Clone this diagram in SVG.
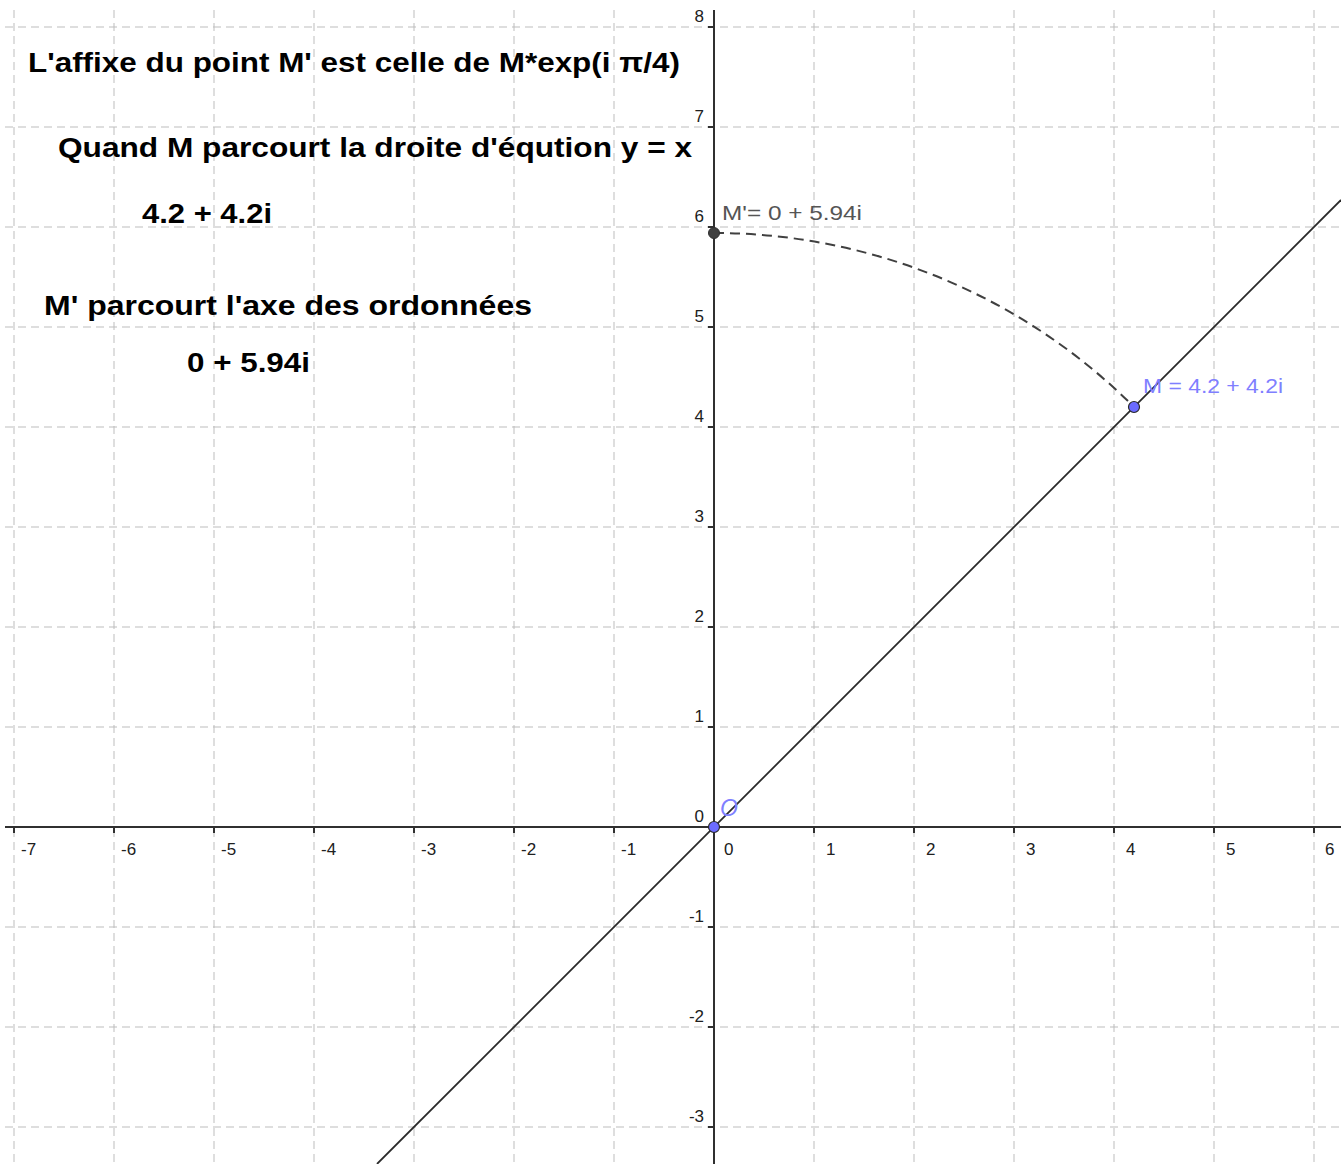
<svg xmlns="http://www.w3.org/2000/svg" width="1341" height="1164" viewBox="0 0 1341 1164">
<defs>
<style>
.grid{stroke:#bdbdbd;stroke-width:1;stroke-dasharray:8 5;fill:none}
.axis{stroke:#303030;stroke-width:2;fill:none}
.tick{stroke:#303030;stroke-width:2}
.tl{font-family:"Liberation Sans",Arial,sans-serif;font-size:17px;fill:#202020}
.tly{font-family:"Liberation Sans",Arial,sans-serif;font-size:17px;fill:#202020;text-anchor:end}
.big{font-family:"Liberation Sans",Arial,sans-serif;font-size:28px;font-weight:bold;fill:#000}
.lab{font-family:"Liberation Sans",Arial,sans-serif;font-size:21px}
</style>
<clipPath id="view"><rect x="5" y="10" width="1336" height="1154"/></clipPath>
</defs>
<rect width="1341" height="1164" fill="#fff"/>
<g clip-path="url(#view)">
<g id="grid">
<path class="grid" d="M14 10V1164M114 10V1164M214 10V1164M314 10V1164M414 10V1164M514 10V1164M614 10V1164M814 10V1164M914 10V1164M1014 10V1164M1114 10V1164M1214 10V1164M1314 10V1164"/>
<path class="grid" d="M5 27H1341M5 127H1341M5 227H1341M5 327H1341M5 427H1341M5 527H1341M5 627H1341M5 727H1341M5 927H1341M5 1027H1341M5 1127H1341"/>
</g>
<g id="axes">
<path class="axis" d="M5 827H1341M714 10V1164"/>
<path class="tick" d="M14 827v6M114 827v6M214 827v6M314 827v6M414 827v6M514 827v6M614 827v6M814 827v6M914 827v6M1014 827v6M1114 827v6M1214 827v6M1314 827v6"/>
<path class="tick" d="M708 27h6M708 127h6M708 227h6M708 327h6M708 427h6M708 527h6M708 627h6M708 727h6M708 927h6M708 1027h6M708 1127h6"/>
<text class="tl" x="21" y="855">-7</text>
<text class="tl" x="121" y="855">-6</text>
<text class="tl" x="221" y="855">-5</text>
<text class="tl" x="321" y="855">-4</text>
<text class="tl" x="421" y="855">-3</text>
<text class="tl" x="521" y="855">-2</text>
<text class="tl" x="621" y="855">-1</text>
<text class="tl" x="724" y="855">0</text>
<text class="tl" x="826" y="855">1</text>
<text class="tl" x="926" y="855">2</text>
<text class="tl" x="1026" y="855">3</text>
<text class="tl" x="1126" y="855">4</text>
<text class="tl" x="1226" y="855">5</text>
<text class="tl" x="1325" y="855">6</text>
<text class="tly" x="704" y="22">8</text>
<text class="tly" x="704" y="122">7</text>
<text class="tly" x="704" y="222">6</text>
<text class="tly" x="704" y="322">5</text>
<text class="tly" x="704" y="422">4</text>
<text class="tly" x="704" y="522">3</text>
<text class="tly" x="704" y="622">2</text>
<text class="tly" x="704" y="722">1</text>
<text class="tly" x="704" y="822">0</text>
<text class="tly" x="704" y="922">-1</text>
<text class="tly" x="704" y="1022">-2</text>
<text class="tly" x="704" y="1122">-3</text>
</g>
<g id="connectors">
<path id="line-yx" d="M377 1164L1341 200" stroke="#2a2a2a" stroke-width="1.8" fill="none"/>
<path id="arc" d="M714 233A594 594 0 0 1 1134 407" stroke="#404040" stroke-width="2" stroke-dasharray="10 6" fill="none"/>
</g>
<g id="node-Mprime">
<circle cx="714" cy="233" r="5.5" fill="#404040" stroke="#303030" stroke-width="1"/>
<text class="lab" x="722" y="220" fill="#555" textLength="140" lengthAdjust="spacingAndGlyphs">M'= 0 + 5.94i</text>
</g>
<g id="node-M">
<circle cx="1134" cy="407" r="5.5" fill="#6b6bff" stroke="#2a2a2a" stroke-width="1.2"/>
<text class="lab" x="1143" y="393" fill="#7f7fff" textLength="140" lengthAdjust="spacingAndGlyphs">M = 4.2 + 4.2i</text>
</g>
<g id="node-O">
<circle cx="714" cy="827" r="5.5" fill="#6b6bff" stroke="#2a2a2a" stroke-width="1.2"/>
<text x="720" y="816" font-family="Liberation Sans, Arial, sans-serif" font-size="23" font-style="italic" fill="#8080ff">O</text>
</g>
</g>
<g id="texts">
<text class="big" x="28" y="72" textLength="652" lengthAdjust="spacingAndGlyphs">L'affixe du point M' est celle de M*exp(i π/4)</text>
<text class="big" x="58" y="157" textLength="634" lengthAdjust="spacingAndGlyphs">Quand M parcourt la droite d'éqution y = x</text>
<text class="big" x="142" y="223" textLength="130" lengthAdjust="spacingAndGlyphs">4.2 + 4.2i</text>
<text class="big" x="44" y="315" textLength="488" lengthAdjust="spacingAndGlyphs">M' parcourt l'axe des ordonnées</text>
<text class="big" x="187" y="372" textLength="123" lengthAdjust="spacingAndGlyphs">0 + 5.94i</text>
</g>
</svg>
